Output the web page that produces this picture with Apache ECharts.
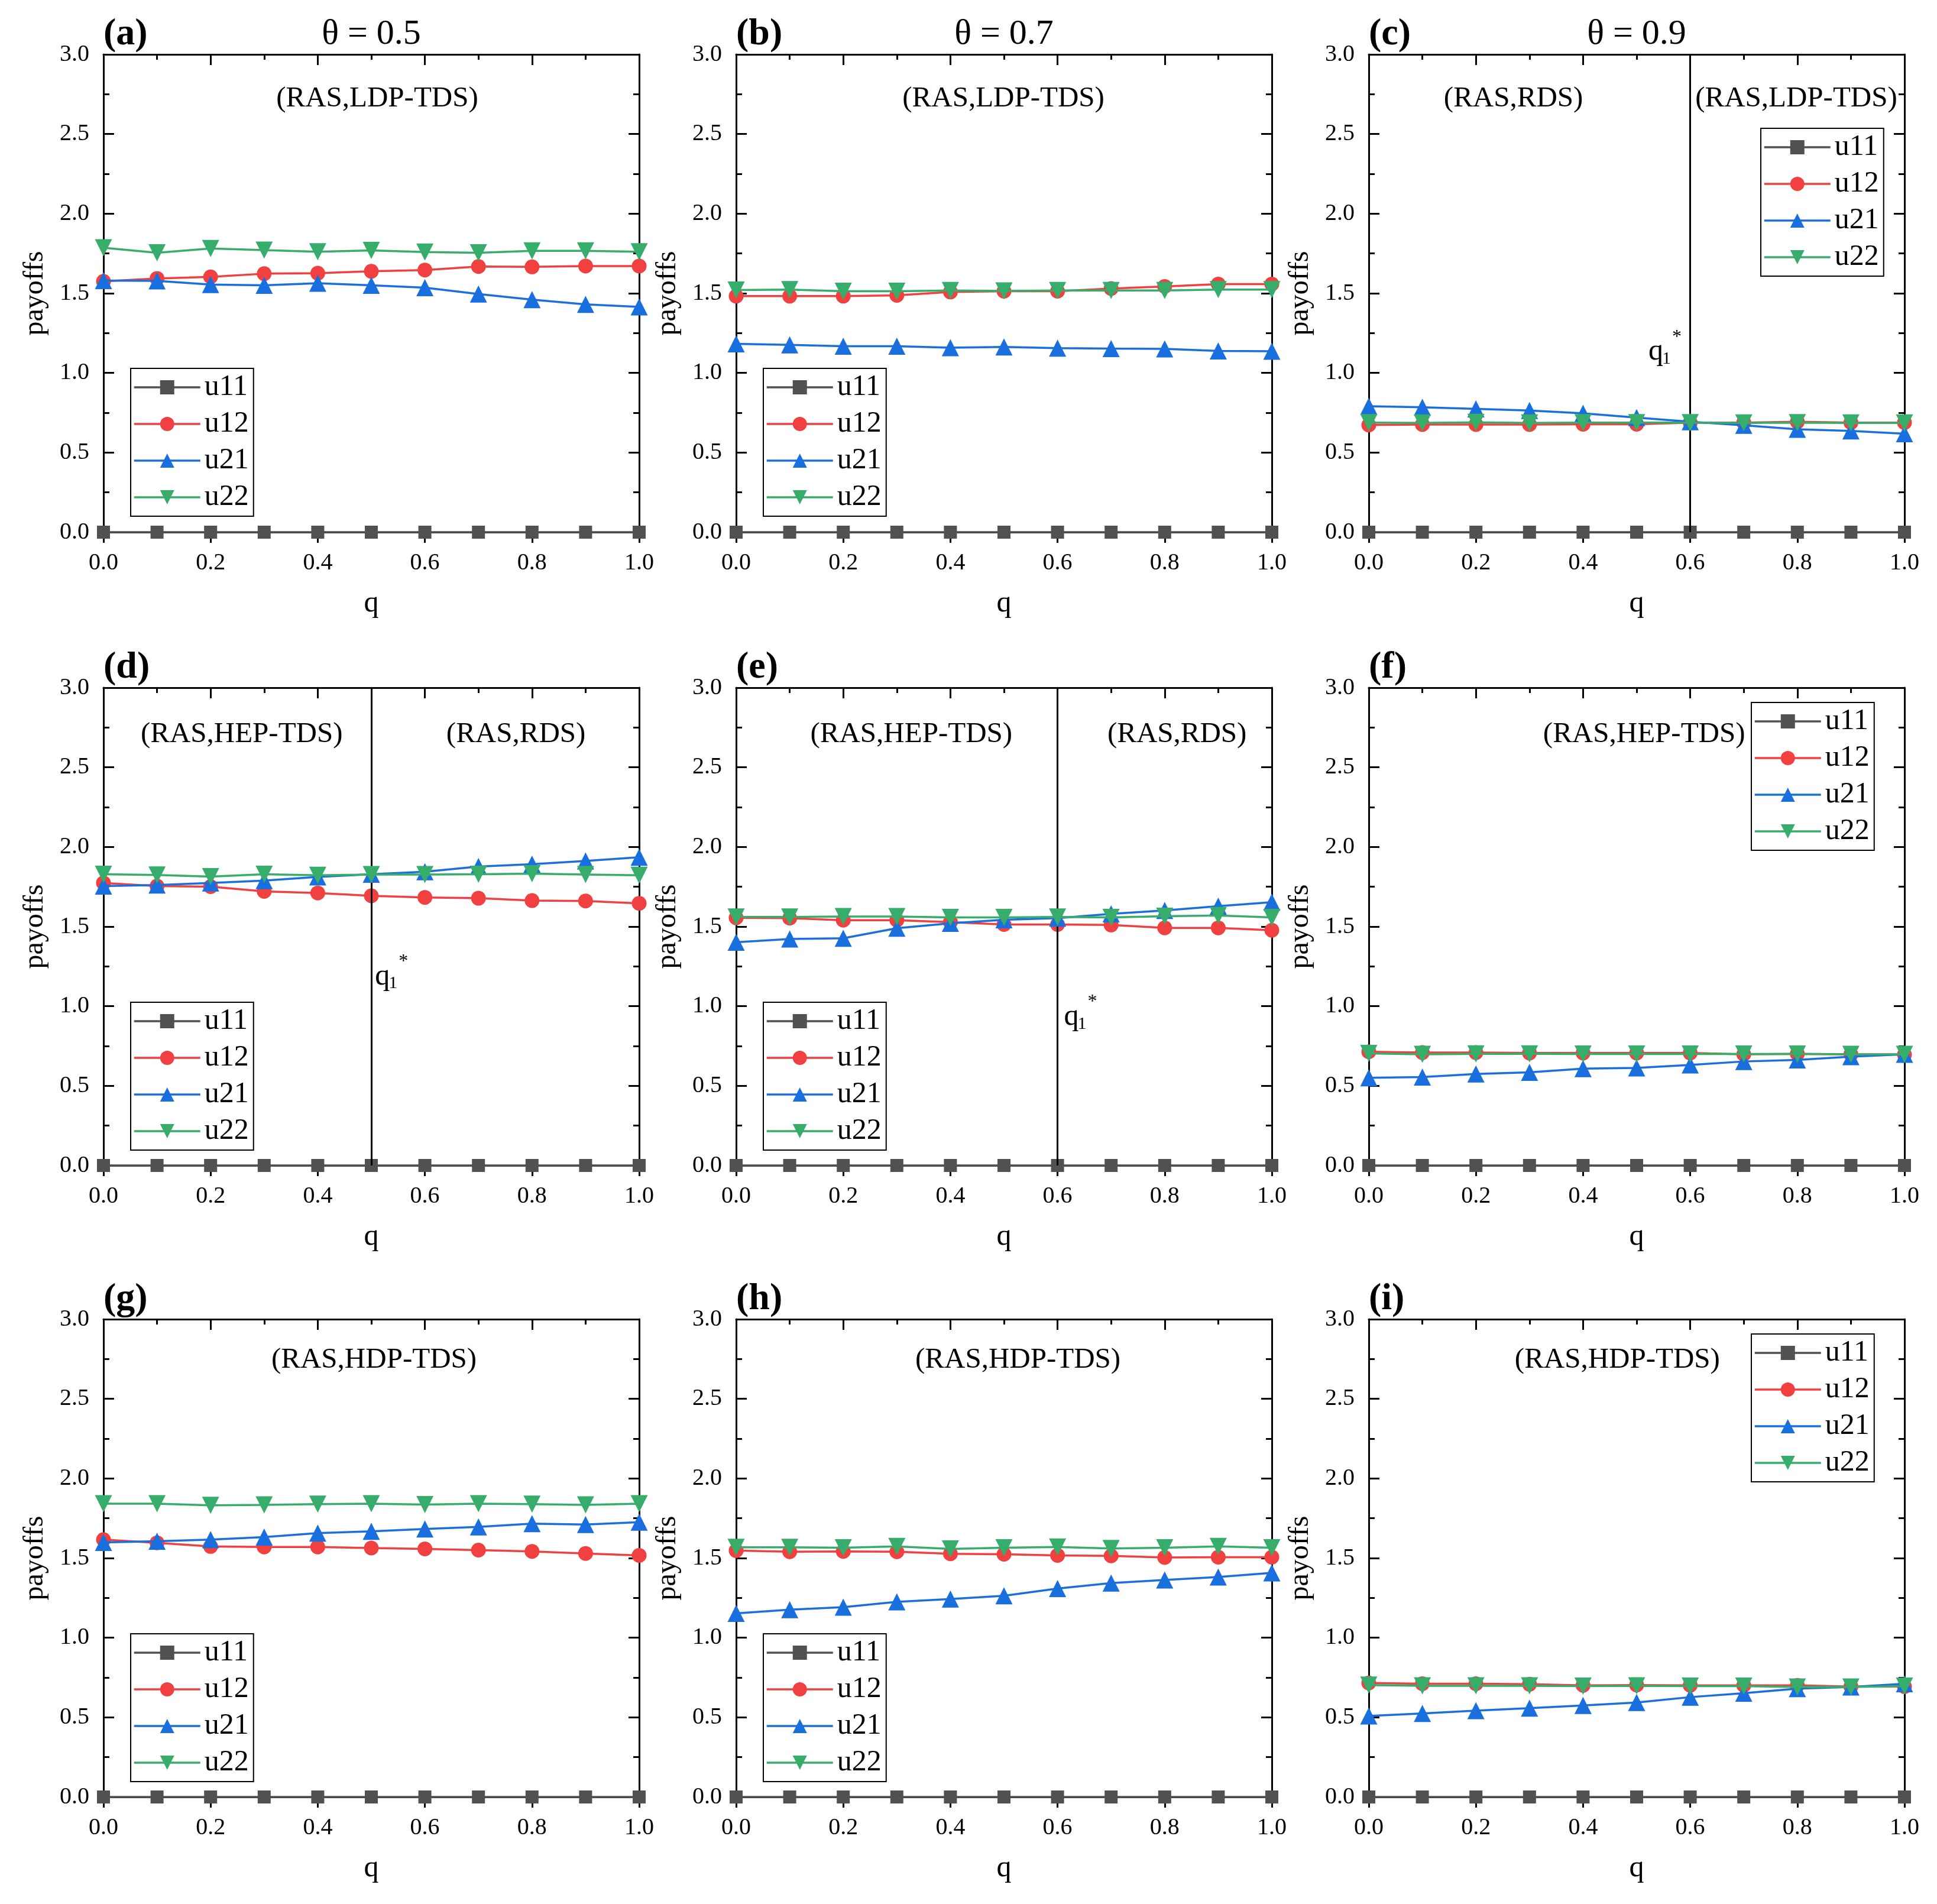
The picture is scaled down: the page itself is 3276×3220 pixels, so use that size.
<!DOCTYPE html>
<html><head><meta charset="utf-8">
<script src="https://cdn.jsdelivr.net/npm/echarts@6/dist/echarts.min.js"></script>
<style>html,body{margin:0;padding:0;background:#fff}#c{width:3276px;height:3220px}</style>
</head><body><div id="c"></div>
<script>
// ---------------- data ----------------
const q = [0, 0.1, 0.2, 0.3, 0.4, 0.5, 0.6, 0.7, 0.8, 0.9, 1.0];
const seriesNames = ['u11', 'u12', 'u21', 'u22'];
const panelLetters = ['(a)', '(b)', '(c)', '(d)', '(e)', '(f)', '(g)', '(h)', '(i)'];
const thetaTitles = ['θ = 0.5', 'θ = 0.7', 'θ = 0.9'];
const xAxisName = 'q';
const yAxisName = 'payoffs';

const u11_all = [0, 0, 0, 0, 0, 0, 0, 0, 0, 0, 0];

const a_u12 = [1.575, 1.593, 1.603, 1.623, 1.626, 1.638, 1.646, 1.668, 1.666, 1.671, 1.671];
const a_u21 = [1.580, 1.578, 1.555, 1.550, 1.563, 1.550, 1.535, 1.495, 1.460, 1.430, 1.415];
const a_u22 = [1.786, 1.754, 1.781, 1.771, 1.761, 1.769, 1.759, 1.754, 1.766, 1.766, 1.761];

const b_u12 = [1.482, 1.482, 1.482, 1.487, 1.508, 1.513, 1.513, 1.530, 1.543, 1.558, 1.558];
const b_u21 = [1.183, 1.176, 1.168, 1.168, 1.158, 1.163, 1.156, 1.153, 1.151, 1.138, 1.136];
const b_u22 = [1.520, 1.523, 1.513, 1.513, 1.518, 1.515, 1.518, 1.518, 1.518, 1.523, 1.523];

const c_u12 = [0.673, 0.676, 0.676, 0.676, 0.678, 0.678, 0.688, 0.688, 0.693, 0.688, 0.688];
const c_u21 = [0.791, 0.784, 0.774, 0.764, 0.746, 0.719, 0.693, 0.671, 0.646, 0.636, 0.618];
const c_u22 = [0.688, 0.686, 0.690, 0.686, 0.688, 0.688, 0.688, 0.686, 0.688, 0.686, 0.686];

const d_u12 = [1.774, 1.754, 1.751, 1.721, 1.711, 1.693, 1.683, 1.678, 1.663, 1.661, 1.646];
const d_u21 = [1.754, 1.761, 1.774, 1.789, 1.812, 1.829, 1.844, 1.877, 1.892, 1.912, 1.935];
const d_u22 = [1.829, 1.824, 1.814, 1.829, 1.822, 1.827, 1.827, 1.829, 1.832, 1.827, 1.822];

const e_u12 = [1.555, 1.553, 1.540, 1.540, 1.528, 1.513, 1.513, 1.510, 1.492, 1.492, 1.477];
const e_u21 = [1.402, 1.422, 1.427, 1.490, 1.520, 1.543, 1.553, 1.580, 1.601, 1.628, 1.653];
const e_u22 = [1.560, 1.560, 1.563, 1.563, 1.558, 1.558, 1.560, 1.558, 1.565, 1.570, 1.558];

const f_u12 = [0.714, 0.709, 0.709, 0.706, 0.706, 0.706, 0.706, 0.698, 0.701, 0.698, 0.696];
const f_u21 = [0.550, 0.555, 0.575, 0.585, 0.608, 0.613, 0.631, 0.653, 0.663, 0.683, 0.698];
const f_u22 = [0.704, 0.698, 0.701, 0.701, 0.700, 0.700, 0.700, 0.700, 0.700, 0.698, 0.698];

const g_u12 = [1.616, 1.596, 1.573, 1.570, 1.570, 1.563, 1.558, 1.550, 1.542, 1.529, 1.517];
const g_u21 = [1.598, 1.606, 1.616, 1.632, 1.657, 1.668, 1.683, 1.696, 1.716, 1.711, 1.726];
const g_u22 = [1.842, 1.842, 1.831, 1.834, 1.839, 1.842, 1.836, 1.842, 1.839, 1.834, 1.842];

const h_u12 = [1.547, 1.540, 1.542, 1.540, 1.527, 1.524, 1.517, 1.514, 1.504, 1.506, 1.506];
const h_u21 = [1.153, 1.176, 1.192, 1.225, 1.243, 1.263, 1.309, 1.343, 1.363, 1.381, 1.407];
const h_u22 = [1.568, 1.568, 1.565, 1.573, 1.558, 1.565, 1.570, 1.560, 1.565, 1.573, 1.565];

const i_u12 = [0.716, 0.711, 0.711, 0.708, 0.701, 0.703, 0.701, 0.701, 0.701, 0.693, 0.693];
const i_u21 = [0.509, 0.524, 0.542, 0.558, 0.575, 0.593, 0.627, 0.652, 0.680, 0.691, 0.711];
const i_u22 = [0.703, 0.698, 0.698, 0.698, 0.696, 0.698, 0.696, 0.696, 0.691, 0.691, 0.696];

// region labels (text) per panel
const regionTexts = [
  ['(RAS,LDP-TDS)'],
  ['(RAS,LDP-TDS)'],
  ['(RAS,RDS)', '(RAS,LDP-TDS)'],
  ['(RAS,HEP-TDS)', '(RAS,RDS)'],
  ['(RAS,HEP-TDS)', '(RAS,RDS)'],
  ['(RAS,HEP-TDS)'],
  ['(RAS,HDP-TDS)'],
  ['(RAS,HDP-TDS)'],
  ['(RAS,HDP-TDS)']
];
// threshold q1* per panel (null = none)
const thresholds = [null, null, 0.6, 0.5, 0.6, null, null, null, null];

const panelData = [
  [u11_all, a_u12, a_u21, a_u22],
  [u11_all, b_u12, b_u21, b_u22],
  [u11_all, c_u12, c_u21, c_u22],
  [u11_all, d_u12, d_u21, d_u22],
  [u11_all, e_u12, e_u21, e_u22],
  [u11_all, f_u12, f_u21, f_u22],
  [u11_all, g_u12, g_u21, g_u22],
  [u11_all, h_u12, h_u21, h_u22],
  [u11_all, i_u12, i_u21, i_u22]
];

// ---------------- layout & style ----------------
const gridLefts = [175, 1245, 2315];
const gridTops = [92, 1163, 2231];
const gridW = 906, gridH = 808;
const SERIF = '"Liberation Serif", "Times New Roman", serif';
const colors = ['#515151', '#F14040', '#1A6FDF', '#37AD6B'];
const symbols = ['rect', 'circle', 'triangle', 'path://M0,0L10,0L5,9Z'];
const symbolSizes = [22, 25, 29, 29];
const LINE_W = 3.5;

// legend position relative to grid (left offset, top offset)
const legendPos = [
  [46, 531], [46, 531], [663, 125],
  [46, 532], [46, 532], [647, 25],
  [46, 532], [46, 532], [647, 25]
];
// region label anchor positions in data coords (x, y)
const regionPos = [
  [[0.511, 2.72]],
  [[0.499, 2.72]],
  [[0.270, 2.72], [0.798, 2.72]],
  [[0.258, 2.706], [0.770, 2.706]],
  [[0.327, 2.706], [0.823, 2.706]],
  [[0.514, 2.706]],
  [[0.505, 2.744]],
  [[0.526, 2.744]],
  [[0.464, 2.744]]
];
// q1* anchor (left of "q", vertical middle), data coords
const qStarPos = [null, null, [0.522, 1.132], [0.507, 1.186], [0.612, 0.933], null, null, null, null];

const grids = [], xAxes = [], yAxes = [], series = [], legends = [];
const tickStyle = {color: '#000', width: 3};

for (let p = 0; p < 9; p++) {
  const r = Math.floor(p / 3), c = p % 3;
  grids.push({left: gridLefts[c], top: gridTops[r], width: gridW, height: gridH, containLabel: false});
  // bottom x
  xAxes.push({
    type: 'value', gridIndex: p, min: 0, max: 1, interval: 0.2, position: 'bottom',
    axisLine: {show: true, onZero: false, lineStyle: tickStyle},
    axisTick: {show: true, inside: false, length: 18, lineStyle: tickStyle},
    minorTick: {show: true, splitNumber: 2, length: 9, lineStyle: tickStyle},
    splitLine: {show: false},
    axisLabel: {formatter: v => v.toFixed(1), fontFamily: SERIF, fontSize: 40, color: '#000', margin: 32},
    name: xAxisName, nameLocation: 'middle', nameGap: 96,
    nameTextStyle: {fontFamily: SERIF, fontSize: 50, color: '#000'}
  });
  // top x
  xAxes.push({
    type: 'value', gridIndex: p, min: 0, max: 1, interval: 0.2, position: 'top',
    axisLine: {show: true, onZero: false, lineStyle: tickStyle},
    axisTick: {show: true, inside: true, length: 18, lineStyle: tickStyle},
    minorTick: {show: true, splitNumber: 2, length: 9, lineStyle: tickStyle},
    splitLine: {show: false}, axisLabel: {show: false}
  });
  // left y
  yAxes.push({
    type: 'value', gridIndex: p, min: 0, max: 3, interval: 0.5, position: 'left',
    axisLine: {show: true, onZero: false, lineStyle: tickStyle},
    axisTick: {show: true, inside: true, length: 18, lineStyle: tickStyle},
    minorTick: {show: true, splitNumber: 2, length: 10, lineStyle: tickStyle},
    splitLine: {show: false},
    axisLabel: {formatter: v => v.toFixed(1), fontFamily: SERIF, fontSize: 40, color: '#000', margin: 24},
    name: yAxisName, nameLocation: 'middle', nameGap: 92,
    nameTextStyle: {fontFamily: SERIF, fontSize: 48, color: '#000'}
  });
  // right y
  yAxes.push({
    type: 'value', gridIndex: p, min: 0, max: 3, interval: 0.5, position: 'right',
    axisLine: {show: true, onZero: false, lineStyle: tickStyle},
    axisTick: {show: true, inside: true, length: 18, lineStyle: tickStyle},
    minorTick: {show: true, splitNumber: 2, length: 10, lineStyle: tickStyle},
    splitLine: {show: false}, axisLabel: {show: false}
  });

  for (let s = 0; s < 4; s++) {
    const ser = {
      type: 'line', name: seriesNames[s], xAxisIndex: 2 * p, yAxisIndex: 2 * p,
      data: q.map((x, k) => [x, panelData[p][s][k]]),
      symbol: symbols[s], symbolSize: symbolSizes[s], showAllSymbol: true,
      lineStyle: {color: colors[s], width: LINE_W},
      itemStyle: {color: colors[s]},
      clip: false, z: 3 + s
    };
    if (s === 0 && thresholds[p] !== null) {
      ser.markLine = {
        silent: true, symbol: 'none', animation: false,
        label: {show: false},
        lineStyle: {color: '#000', width: 3, type: 'solid'},
        data: [{xAxis: thresholds[p]}]
      };
    }
    series.push(ser);
  }

  legends.push({
    data: seriesNames, orient: 'vertical', selectedMode: false,
    left: gridLefts[c] + legendPos[p][0], top: gridTops[r] + legendPos[p][1],
    itemWidth: 112, itemHeight: 30, itemGap: 12,
    padding: [7, 8, 7, 4],
    lineStyle: {width: LINE_W},
    borderColor: '#000', borderWidth: 2, backgroundColor: '#fff',
    textStyle: {fontFamily: SERIF, fontSize: 50, color: '#000', padding: [0, 0, 0, 2]}
  });
}

const chart = echarts.init(document.getElementById('c'), null, {renderer: 'canvas'});
chart.setOption({
  animation: false,
  backgroundColor: '#fff',
  grid: grids, xAxis: xAxes, yAxis: yAxes, series: series, legend: legends
});

// ---------------- annotations ----------------
const graphics = [];
function txt(t, x, y, font, align, valign) {
  return {type: 'text', silent: true, z: 100,
    style: {text: t, x: x, y: y, font: font, fill: '#000',
      align: align, verticalAlign: valign, textAlign: align, textVerticalAlign: valign}};
}
for (let p = 0; p < 9; p++) {
  const sIdx = 4 * p;
  const tl = chart.convertToPixel({seriesIndex: sIdx}, [0, 3]);
  const tc = chart.convertToPixel({seriesIndex: sIdx}, [0.5, 3]);
  graphics.push(txt(panelLetters[p], tl[0], tl[1] - 34, 'bold 64px ' + SERIF, 'left', 'middle'));
  if (p < 3) graphics.push(txt(thetaTitles[p], tc[0], tc[1] - 34, 'normal 60px ' + SERIF, 'center', 'middle'));
  regionTexts[p].forEach((t, k) => {
    const pt = chart.convertToPixel({seriesIndex: sIdx}, regionPos[p][k]);
    graphics.push(txt(t, pt[0], pt[1], 'normal 49px ' + SERIF, 'center', 'middle'));
  });
  if (qStarPos[p]) {
    const pt = chart.convertToPixel({seriesIndex: sIdx}, qStarPos[p]);
    graphics.push(txt('q', pt[0], pt[1], 'normal 50px ' + SERIF, 'left', 'middle'));
    graphics.push(txt('1', pt[0] + 23, pt[1] + 12, 'normal 30px ' + SERIF, 'left', 'middle'));
    graphics.push(txt('*', pt[0] + 40, pt[1] - 25, 'normal 32px ' + SERIF, 'left', 'middle'));
  }
}
chart.setOption({graphic: graphics});
</script>
</body></html>
